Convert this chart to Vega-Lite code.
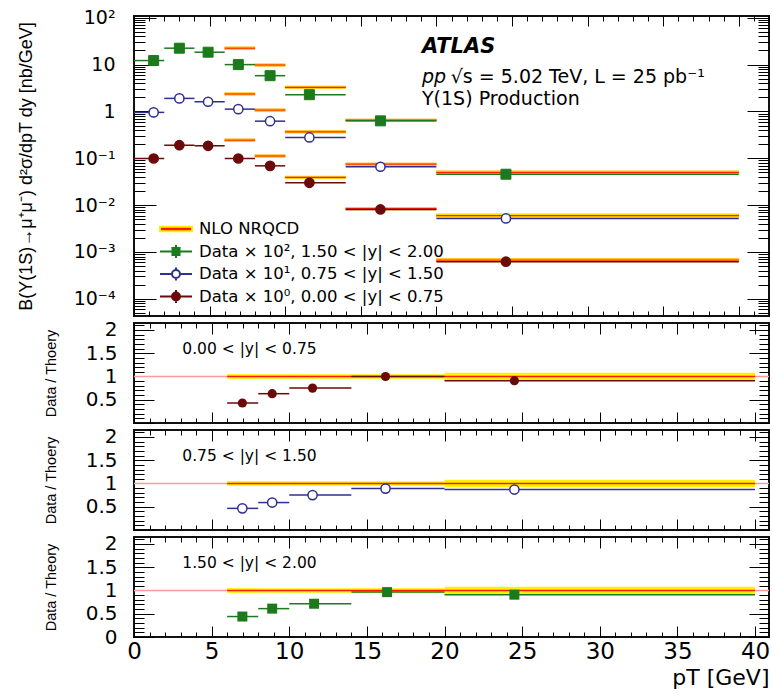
{
  "$schema": "https://vega.github.io/schema/vega-lite/v6.json",
  "padding": {"left": 16, "top": 7, "right": 3, "bottom": 5},
  "spacing": 0,
  "background": "white",
  "datasets": {
    "main": [
      {"s": "g", "label": "Data × 10², 1.50 < |y| < 2.00", "lo": 0, "hi": 2, "pt": 1.3, "v": 12.2, "vlo": 11.6, "vhi": 12.8},
      {"s": "g", "label": "Data × 10², 1.50 < |y| < 2.00", "lo": 2, "hi": 4, "pt": 3.0, "v": 22.4, "vlo": 21.3, "vhi": 23.5},
      {"s": "g", "label": "Data × 10², 1.50 < |y| < 2.00", "lo": 4, "hi": 6, "pt": 4.9, "v": 18.4, "vlo": 17.3, "vhi": 19.5},
      {"s": "g", "label": "Data × 10², 1.50 < |y| < 2.00", "lo": 6, "hi": 8, "pt": 6.9, "v": 10.0, "vlo": 7.8, "vhi": 12.6},
      {"s": "g", "label": "Data × 10², 1.50 < |y| < 2.00", "lo": 8, "hi": 10, "pt": 9.0, "v": 5.8, "vlo": 5.4, "vhi": 6.2},
      {"s": "g", "label": "Data × 10², 1.50 < |y| < 2.00", "lo": 10, "hi": 14, "pt": 11.6, "v": 2.28, "vlo": 2.15, "vhi": 2.41},
      {"s": "g", "label": "Data × 10², 1.50 < |y| < 2.00", "lo": 14, "hi": 20, "pt": 16.3, "v": 0.63, "vlo": 0.59, "vhi": 0.67},
      {"s": "g", "label": "Data × 10², 1.50 < |y| < 2.00", "lo": 20, "hi": 40, "pt": 24.6, "v": 0.0457, "vlo": 0.042, "vhi": 0.0495},
      {"s": "b", "label": "Data × 10¹, 0.75 < |y| < 1.50", "lo": 0, "hi": 2, "pt": 1.3, "v": 0.955, "vlo": 0.92, "vhi": 0.99},
      {"s": "b", "label": "Data × 10¹, 0.75 < |y| < 1.50", "lo": 2, "hi": 4, "pt": 3.0, "v": 1.9, "vlo": 1.83, "vhi": 1.97},
      {"s": "b", "label": "Data × 10¹, 0.75 < |y| < 1.50", "lo": 4, "hi": 6, "pt": 4.9, "v": 1.61, "vlo": 1.55, "vhi": 1.67},
      {"s": "b", "label": "Data × 10¹, 0.75 < |y| < 1.50", "lo": 6, "hi": 8, "pt": 6.9, "v": 1.12, "vlo": 1.07, "vhi": 1.17},
      {"s": "b", "label": "Data × 10¹, 0.75 < |y| < 1.50", "lo": 8, "hi": 10, "pt": 9.0, "v": 0.62, "vlo": 0.595, "vhi": 0.645},
      {"s": "b", "label": "Data × 10¹, 0.75 < |y| < 1.50", "lo": 10, "hi": 14, "pt": 11.6, "v": 0.279, "vlo": 0.268, "vhi": 0.29},
      {"s": "b", "label": "Data × 10¹, 0.75 < |y| < 1.50", "lo": 14, "hi": 20, "pt": 16.3, "v": 0.066, "vlo": 0.063, "vhi": 0.069},
      {"s": "b", "label": "Data × 10¹, 0.75 < |y| < 1.50", "lo": 20, "hi": 40, "pt": 24.6, "v": 0.0052, "vlo": 0.0049, "vhi": 0.0055},
      {"s": "m", "label": "Data × 10⁰, 0.00 < |y| < 0.75", "lo": 0, "hi": 2, "pt": 1.3, "v": 0.099, "vlo": 0.095, "vhi": 0.103},
      {"s": "m", "label": "Data × 10⁰, 0.00 < |y| < 0.75", "lo": 2, "hi": 4, "pt": 3.0, "v": 0.19, "vlo": 0.182, "vhi": 0.198},
      {"s": "m", "label": "Data × 10⁰, 0.00 < |y| < 0.75", "lo": 4, "hi": 6, "pt": 4.9, "v": 0.185, "vlo": 0.177, "vhi": 0.193},
      {"s": "m", "label": "Data × 10⁰, 0.00 < |y| < 0.75", "lo": 6, "hi": 8, "pt": 6.9, "v": 0.099, "vlo": 0.095, "vhi": 0.103},
      {"s": "m", "label": "Data × 10⁰, 0.00 < |y| < 0.75", "lo": 8, "hi": 10, "pt": 9.0, "v": 0.069, "vlo": 0.066, "vhi": 0.072},
      {"s": "m", "label": "Data × 10⁰, 0.00 < |y| < 0.75", "lo": 10, "hi": 14, "pt": 11.6, "v": 0.030, "vlo": 0.0288, "vhi": 0.0312},
      {"s": "m", "label": "Data × 10⁰, 0.00 < |y| < 0.75", "lo": 14, "hi": 20, "pt": 16.3, "v": 0.0081, "vlo": 0.0077, "vhi": 0.0085},
      {"s": "m", "label": "Data × 10⁰, 0.00 < |y| < 0.75", "lo": 20, "hi": 40, "pt": 24.6, "v": 0.00062, "vlo": 0.00058, "vhi": 0.00066}
    ],
    "theory": [
      {"s": "g", "lo": 6, "hi": 8, "t": 22.4, "tlo": 21.0, "thi": 23.9},
      {"s": "g", "lo": 8, "hi": 10, "t": 9.8, "tlo": 9.2, "thi": 10.4},
      {"s": "g", "lo": 10, "hi": 14, "t": 3.28, "tlo": 3.08, "thi": 3.49},
      {"s": "g", "lo": 14, "hi": 20, "t": 0.65, "tlo": 0.61, "thi": 0.69},
      {"s": "g", "lo": 20, "hi": 40, "t": 0.050, "tlo": 0.0462, "thi": 0.0541},
      {"s": "b", "lo": 6, "hi": 8, "t": 2.36, "tlo": 2.22, "thi": 2.51},
      {"s": "b", "lo": 8, "hi": 10, "t": 1.07, "tlo": 1.0, "thi": 1.14},
      {"s": "b", "lo": 10, "hi": 14, "t": 0.367, "tlo": 0.345, "thi": 0.39},
      {"s": "b", "lo": 14, "hi": 20, "t": 0.0748, "tlo": 0.0703, "thi": 0.0795},
      {"s": "b", "lo": 20, "hi": 40, "t": 0.0060, "tlo": 0.00555, "thi": 0.0065},
      {"s": "m", "lo": 6, "hi": 8, "t": 0.244, "tlo": 0.229, "thi": 0.26},
      {"s": "m", "lo": 8, "hi": 10, "t": 0.112, "tlo": 0.105, "thi": 0.119},
      {"s": "m", "lo": 10, "hi": 14, "t": 0.039, "tlo": 0.0367, "thi": 0.0415},
      {"s": "m", "lo": 14, "hi": 20, "t": 0.0084, "tlo": 0.0079, "thi": 0.0089},
      {"s": "m", "lo": 20, "hi": 40, "t": 0.00067, "tlo": 0.00062, "thi": 0.000725}
    ],
    "ratio": [
      {"p": 1, "lo": 6, "hi": 8, "pt": 6.98, "r": 0.43, "rlo": 0.40, "rhi": 0.46},
      {"p": 1, "lo": 8, "hi": 10, "pt": 8.9, "r": 0.63, "rlo": 0.60, "rhi": 0.66},
      {"p": 1, "lo": 10, "hi": 14, "pt": 11.5, "r": 0.75, "rlo": 0.72, "rhi": 0.78},
      {"p": 1, "lo": 14, "hi": 20, "pt": 16.2, "r": 1.0, "rlo": 0.95, "rhi": 1.05},
      {"p": 1, "lo": 20, "hi": 40, "pt": 24.5, "r": 0.91, "rlo": 0.84, "rhi": 0.98},
      {"p": 2, "lo": 6, "hi": 8, "pt": 6.98, "r": 0.465, "rlo": 0.44, "rhi": 0.49},
      {"p": 2, "lo": 8, "hi": 10, "pt": 8.9, "r": 0.59, "rlo": 0.565, "rhi": 0.615},
      {"p": 2, "lo": 10, "hi": 14, "pt": 11.5, "r": 0.75, "rlo": 0.72, "rhi": 0.78},
      {"p": 2, "lo": 14, "hi": 20, "pt": 16.2, "r": 0.89, "rlo": 0.85, "rhi": 0.93},
      {"p": 2, "lo": 20, "hi": 40, "pt": 24.5, "r": 0.87, "rlo": 0.81, "rhi": 0.93},
      {"p": 3, "lo": 6, "hi": 8, "pt": 6.98, "r": 0.44, "rlo": 0.37, "rhi": 0.51},
      {"p": 3, "lo": 8, "hi": 10, "pt": 8.9, "r": 0.61, "rlo": 0.56, "rhi": 0.66},
      {"p": 3, "lo": 10, "hi": 14, "pt": 11.6, "r": 0.715, "rlo": 0.665, "rhi": 0.765},
      {"p": 3, "lo": 14, "hi": 20, "pt": 16.3, "r": 0.965, "rlo": 0.895, "rhi": 1.035},
      {"p": 3, "lo": 20, "hi": 40, "pt": 24.5, "r": 0.91, "rlo": 0.83, "rhi": 0.99}
    ],
    "band": [
      {"lo": 6, "hi": 8, "blo": 0.95, "bhi": 1.05},
      {"lo": 8, "hi": 10, "blo": 0.95, "bhi": 1.05},
      {"lo": 10, "hi": 14, "blo": 0.95, "bhi": 1.05},
      {"lo": 14, "hi": 20, "blo": 0.95, "bhi": 1.05},
      {"lo": 20, "hi": 40, "blo": 0.92, "bhi": 1.08}
    ]
  },
  "resolve": {"scale": {"fill": "independent", "stroke": "independent", "shape": "independent"}},
  "vconcat": [
    {
      "width": 635,
      "height": 300,
      "resolve": {"axis": {"x": "independent", "y": "independent"}},
      "layer": [
        {
          "data": {"name": "theory"},
          "mark": {"type": "rect", "fill": "#fff200", "stroke": "#ffa000", "strokeWidth": 0.6},
          "encoding": {
            "x": {"field": "lo", "type": "quantitative", "scale": {"domain": [0, 42], "nice": false, "zero": false},
              "axis": {"orient": "bottom", "title": null, "labels": false, "minExtent": 0, "maxExtent": 0, "values": [0,1,2,3,4,5,6,7,8,9,10,11,12,13,14,15,16,17,18,19,20,21,22,23,24,25,26,27,28,29,30,31,32,33,34,35,36,37,38,39,40,41,42],
                "tickSize": {"condition": {"test": "datum.value % 5 === 0", "value": -10}, "value": -5}}},
            "x2": {"field": "hi"},
            "y": {"field": "tlo", "type": "quantitative", "scale": {"type": "log", "domain": [0.000043, 109], "nice": false},
              "axis": {"orient": "left", "title": "B(Υ(1S)→μ⁺μ⁻)  d²σ/dpT dy  [nb/GeV]", "titleFontSize": 18, "titlePadding": 38,
                "labelPadding": 41, "labelOverlap": false, "labelBound": false, "labelFlush": false,
                "labelFontSize": {"condition": {"test": "abs(log(datum.value)/LN10 - round(log(datum.value)/LN10)) < 0.001", "value": 19}, "value": 0},
                "values": [0.00005,0.00006,0.00007,0.00008,0.00009,0.0001,0.0002,0.0003,0.0004,0.0005,0.0006,0.0007,0.0008,0.0009,0.001,0.002,0.003,0.004,0.005,0.006,0.007,0.008,0.009,0.01,0.02,0.03,0.04,0.05,0.06,0.07,0.08,0.09,0.1,0.2,0.3,0.4,0.5,0.6,0.7,0.8,0.9,1,2,3,4,5,6,7,8,9,10,20,30,40,50,60,70,80,90,100],
                "labelExpr": "datum.value == 100 ? '10²' : datum.value == 10 ? '10' : datum.value == 1 ? '1' : datum.value == 0.1 ? '10⁻¹' : datum.value == 0.01 ? '10⁻²' : datum.value == 0.001 ? '10⁻³' : datum.value == 0.0001 ? '10⁻⁴' : ''",
                "tickSize": {"condition": {"test": "abs(log(datum.value)/LN10 - round(log(datum.value)/LN10)) < 0.001", "value": -22}, "value": -11}}},
            "y2": {"field": "thi"}
          }
        },
        {
          "data": {"name": "theory"},
          "mark": {"type": "rule", "stroke": "#ff2000", "strokeWidth": 1.2},
          "encoding": {
            "x": {"field": "lo", "type": "quantitative", "scale": {"domain": [0, 42], "nice": false, "zero": false}, "axis": null},
            "x2": {"field": "hi"},
            "y": {"field": "t", "type": "quantitative", "scale": {"type": "log", "domain": [0.000043, 109], "nice": false}, "axis": null}
          }
        },
        {
          "data": {"name": "main"},
          "mark": {"type": "rule", "strokeWidth": 1.5},
          "encoding": {
            "x": {"field": "lo", "type": "quantitative", "scale": {"domain": [0, 42], "nice": false, "zero": false},
              "axis": {"orient": "top", "title": null, "labels": false, "minExtent": 0, "maxExtent": 0, "values": [0,1,2,3,4,5,6,7,8,9,10,11,12,13,14,15,16,17,18,19,20,21,22,23,24,25,26,27,28,29,30,31,32,33,34,35,36,37,38,39,40,41,42],
                "tickSize": {"condition": {"test": "datum.value % 5 === 0", "value": -10}, "value": -5}}},
            "x2": {"field": "hi"},
            "y": {"field": "v", "type": "quantitative", "scale": {"type": "log", "domain": [0.000043, 109], "nice": false},
              "axis": {"orient": "right", "title": null, "labels": false, "minExtent": 0, "maxExtent": 0,
                "values": [0.00005,0.00006,0.00007,0.00008,0.00009,0.0001,0.0002,0.0003,0.0004,0.0005,0.0006,0.0007,0.0008,0.0009,0.001,0.002,0.003,0.004,0.005,0.006,0.007,0.008,0.009,0.01,0.02,0.03,0.04,0.05,0.06,0.07,0.08,0.09,0.1,0.2,0.3,0.4,0.5,0.6,0.7,0.8,0.9,1,2,3,4,5,6,7,8,9,10,20,30,40,50,60,70,80,90,100],
                "tickSize": {"condition": {"test": "abs(log(datum.value)/LN10 - round(log(datum.value)/LN10)) < 0.001", "value": -22}, "value": -11}}},
            "stroke": {"field": "label", "type": "nominal", "legend": {"title": null},
              "scale": {"domain": ["NLO NRQCD", "Data × 10², 1.50 < |y| < 2.00", "Data × 10¹, 0.75 < |y| < 1.50", "Data × 10⁰, 0.00 < |y| < 0.75"], "range": ["#ffee00", "#1c7a1c", "#30308f", "#6b0a0a"]}}
          }
        },
        {
          "data": {"name": "main"},
          "mark": {"type": "rule", "strokeWidth": 1.5},
          "encoding": {
            "x": {"field": "pt", "type": "quantitative", "scale": {"domain": [0, 42], "nice": false, "zero": false}, "axis": null},
            "y": {"field": "vlo", "type": "quantitative", "scale": {"type": "log", "domain": [0.000043, 109], "nice": false}, "axis": null},
            "y2": {"field": "vhi"},
            "stroke": {"field": "label", "type": "nominal", "legend": {"title": null},
              "scale": {"domain": ["NLO NRQCD", "Data × 10², 1.50 < |y| < 2.00", "Data × 10¹, 0.75 < |y| < 1.50", "Data × 10⁰, 0.00 < |y| < 0.75"], "range": ["#ffee00", "#1c7a1c", "#30308f", "#6b0a0a"]}}
          }
        },
        {
          "data": {"name": "main"},
          "transform": [{"filter": "datum.s === 'g'"}],
          "mark": {"type": "point", "shape": "square", "size": 100, "strokeWidth": 1, "opacity": 1},
          "encoding": {
            "x": {"field": "pt", "type": "quantitative", "scale": {"domain": [0, 42], "nice": false, "zero": false}, "axis": null},
            "y": {"field": "v", "type": "quantitative", "scale": {"type": "log", "domain": [0.000043, 109], "nice": false}, "axis": null},
            "fill": {"field": "label", "type": "nominal", "legend": {"title": null},
              "scale": {"domain": ["NLO NRQCD", "Data × 10², 1.50 < |y| < 2.00", "Data × 10¹, 0.75 < |y| < 1.50", "Data × 10⁰, 0.00 < |y| < 0.75"], "range": ["#ff1a00", "#1c7a1c", "#ffffff", "#6b0a0a"]}},
            "stroke": {"field": "label", "type": "nominal", "legend": {"title": null},
              "scale": {"domain": ["NLO NRQCD", "Data × 10², 1.50 < |y| < 2.00", "Data × 10¹, 0.75 < |y| < 1.50", "Data × 10⁰, 0.00 < |y| < 0.75"], "range": ["#ffee00", "#1c7a1c", "#30308f", "#6b0a0a"]}}
          }
        },
        {
          "data": {"name": "main"},
          "transform": [{"filter": "datum.s !== 'g'"}],
          "mark": {"type": "point", "shape": "circle", "size": 85, "strokeWidth": 1.5, "opacity": 1},
          "encoding": {
            "x": {"field": "pt", "type": "quantitative", "scale": {"domain": [0, 42], "nice": false, "zero": false}, "axis": null},
            "y": {"field": "v", "type": "quantitative", "scale": {"type": "log", "domain": [0.000043, 109], "nice": false}, "axis": null},
            "fill": {"field": "label", "type": "nominal", "legend": {"title": null},
              "scale": {"domain": ["NLO NRQCD", "Data × 10², 1.50 < |y| < 2.00", "Data × 10¹, 0.75 < |y| < 1.50", "Data × 10⁰, 0.00 < |y| < 0.75"], "range": ["#ff1a00", "#1c7a1c", "#ffffff", "#6b0a0a"]}},
            "stroke": {"field": "label", "type": "nominal", "legend": {"title": null},
              "scale": {"domain": ["NLO NRQCD", "Data × 10², 1.50 < |y| < 2.00", "Data × 10¹, 0.75 < |y| < 1.50", "Data × 10⁰, 0.00 < |y| < 0.75"], "range": ["#ffee00", "#1c7a1c", "#30308f", "#6b0a0a"]}}
          }
        },
        {
          "data": {"name": "main"},
          "mark": {"type": "point", "size": 1024, "strokeWidth": 2, "opacity": 1, "clip": true},
          "encoding": {
            "x": {"datum": -10, "type": "quantitative", "scale": {"domain": [0, 42], "nice": false, "zero": false}, "axis": null},
            "y": {"field": "v", "type": "quantitative", "scale": {"type": "log", "domain": [0.000043, 109], "nice": false}, "axis": null},
            "fill": {"field": "label", "type": "nominal", "legend": {"title": null},
              "scale": {"domain": ["NLO NRQCD", "Data × 10², 1.50 < |y| < 2.00", "Data × 10¹, 0.75 < |y| < 1.50", "Data × 10⁰, 0.00 < |y| < 0.75"], "range": ["#ff1a00", "#1c7a1c", "#ffffff", "#6b0a0a"]}},
            "stroke": {"field": "label", "type": "nominal", "legend": {"title": null},
              "scale": {"domain": ["NLO NRQCD", "Data × 10², 1.50 < |y| < 2.00", "Data × 10¹, 0.75 < |y| < 1.50", "Data × 10⁰, 0.00 < |y| < 0.75"], "range": ["#ffee00", "#1c7a1c", "#30308f", "#6b0a0a"]}},
            "shape": {"field": "label", "type": "nominal", "legend": {"title": null},
              "scale": {"domain": ["NLO NRQCD", "Data × 10², 1.50 < |y| < 2.00", "Data × 10¹, 0.75 < |y| < 1.50", "Data × 10⁰, 0.00 < |y| < 0.75"],
                "range": ["M-1,-0.14H1V0.14H-1Z", "M-1,0H1M0,-0.4V0.4M-0.22,-0.22H0.22V0.22H-0.22Z", "M-1,0H-0.25M0.25,0H1M0,-0.4V-0.25M0,0.25V0.4M0.25,0A0.25,0.25,0,1,1,-0.25,0A0.25,0.25,0,1,1,0.25,0Z", "M-1,0H1M0,-0.4V0.4M0.25,0A0.25,0.25,0,1,1,-0.25,0A0.25,0.25,0,1,1,0.25,0Z"]}}
          }
        },
        {
          "data": {"values": [{}]},
          "mark": {"type": "text", "text": "ATLAS", "font": "DejaVu Sans", "fontSize": 21, "fontWeight": "bold", "fontStyle": "italic", "align": "left", "baseline": "middle", "color": "black"},
          "encoding": {
            "x": {"datum": 19.05, "type": "quantitative", "scale": {"domain": [0, 42], "nice": false, "zero": false}, "axis": null},
            "y": {"datum": 23.6, "type": "quantitative", "scale": {"type": "log", "domain": [0.000043, 109], "nice": false}, "axis": null}
          }
        },
        {
          "data": {"values": [{}]},
          "mark": {"type": "text", "text": "pp", "font": "DejaVu Sans", "fontSize": 19, "fontStyle": "italic", "align": "left", "baseline": "middle", "color": "black"},
          "encoding": {
            "x": {"datum": 19.05, "type": "quantitative", "scale": {"domain": [0, 42], "nice": false, "zero": false}, "axis": null},
            "y": {"datum": 5.4, "type": "quantitative", "scale": {"type": "log", "domain": [0.000043, 109], "nice": false}, "axis": null}
          }
        },
        {
          "data": {"values": [{}]},
          "mark": {"type": "text", "text": "√s = 5.02 TeV, L = 25 pb⁻¹", "font": "DejaVu Sans", "fontSize": 19, "align": "left", "baseline": "middle", "color": "black"},
          "encoding": {
            "x": {"datum": 20.95, "type": "quantitative", "scale": {"domain": [0, 42], "nice": false, "zero": false}, "axis": null},
            "y": {"datum": 5.4, "type": "quantitative", "scale": {"type": "log", "domain": [0.000043, 109], "nice": false}, "axis": null}
          }
        },
        {
          "data": {"values": [{}]},
          "mark": {"type": "text", "text": "Υ(1S) Production", "font": "DejaVu Sans", "fontSize": 19, "align": "left", "baseline": "middle", "color": "black"},
          "encoding": {
            "x": {"datum": 19.05, "type": "quantitative", "scale": {"domain": [0, 42], "nice": false, "zero": false}, "axis": null},
            "y": {"datum": 1.84, "type": "quantitative", "scale": {"type": "log", "domain": [0.000043, 109], "nice": false}, "axis": null}
          }
        }
      ]
    },
    {
      "width": 635,
      "height": 100,
      "resolve": {"axis": {"x": "independent", "y": "independent"}},
      "layer": [
        {
          "data": {"values": [{}]},
          "mark": {"type": "rule", "stroke": "#ff9a9a", "strokeWidth": 1.5},
          "encoding": {"y": {"datum": 1, "type": "quantitative", "scale": {"domain": [0, 2.15], "nice": false, "zero": false}, "axis": null}}
        },
        {
          "data": {"name": "band"},
          "mark": {"type": "rect", "fill": "#fff200"},
          "encoding": {
            "x": {"field": "lo", "type": "quantitative", "scale": {"domain": [0, 40.9], "nice": false, "zero": false}, "axis": null},
            "x2": {"field": "hi"},
            "y": {"field": "blo", "type": "quantitative", "scale": {"domain": [0, 2.15], "nice": false, "zero": false}, "axis": null},
            "y2": {"field": "bhi"}
          }
        },
        {
          "data": {"values": [{}]},
          "mark": {"type": "rule", "stroke": "#ff1a00", "strokeWidth": 1.5},
          "encoding": {
            "x": {"datum": 6, "type": "quantitative", "scale": {"domain": [0, 40.9], "nice": false, "zero": false}, "axis": null},
            "x2": {"datum": 40},
            "y": {"datum": 1, "type": "quantitative", "scale": {"domain": [0, 2.15], "nice": false, "zero": false}, "axis": null}
          }
        },
        {
          "data": {"name": "ratio"},
          "transform": [{"filter": "datum.p === 1"}],
          "mark": {"type": "rule", "stroke": "#6b0a0a", "strokeWidth": 1.5},
          "encoding": {
            "x": {"field": "lo", "type": "quantitative", "scale": {"domain": [0, 40.9], "nice": false, "zero": false},
              "axis": {"orient": "bottom", "title": null, "labels": false, "minExtent": 0, "maxExtent": 0, "values": [0,1,2,3,4,5,6,7,8,9,10,11,12,13,14,15,16,17,18,19,20,21,22,23,24,25,26,27,28,29,30,31,32,33,34,35,36,37,38,39,40],
                "tickSize": {"condition": {"test": "datum.value % 5 === 0", "value": -11}, "value": -5}}},
            "x2": {"field": "hi"},
            "y": {"field": "r", "type": "quantitative", "scale": {"domain": [0, 2.15], "nice": false, "zero": false},
              "axis": {"orient": "left", "title": "Data / Thoery", "titleFontSize": 14.5, "titlePadding": 27,
                "labelPadding": 37, "labelOverlap": false, "labelBound": false, "labelFlush": false,
                "labelFontSize": {"condition": {"test": "abs(datum.value*2 - round(datum.value*2)) < 0.001 && datum.value > 0.1", "value": 20}, "value": 0},
                "values": [0,0.1,0.2,0.3,0.4,0.5,0.6,0.7,0.8,0.9,1,1.1,1.2,1.3,1.4,1.5,1.6,1.7,1.8,1.9,2,2.1],
                "labelExpr": "datum.value == 0.5 ? '0.5' : datum.value == 1 ? '1' : datum.value == 1.5 ? '1.5' : datum.value == 2 ? '2' : ''",
                "tickSize": {"condition": {"test": "abs(datum.value*2 - round(datum.value*2)) < 0.001", "value": -20}, "value": -10}}}
          }
        },
        {
          "data": {"name": "ratio"},
          "transform": [{"filter": "datum.p === 1"}],
          "mark": {"type": "rule", "stroke": "#6b0a0a", "strokeWidth": 1.5},
          "encoding": {
            "x": {"field": "pt", "type": "quantitative", "scale": {"domain": [0, 40.9], "nice": false, "zero": false},
              "axis": {"orient": "top", "title": null, "labels": false, "minExtent": 0, "maxExtent": 0, "values": [0,1,2,3,4,5,6,7,8,9,10,11,12,13,14,15,16,17,18,19,20,21,22,23,24,25,26,27,28,29,30,31,32,33,34,35,36,37,38,39,40],
                "tickSize": {"condition": {"test": "datum.value % 5 === 0", "value": -11}, "value": -5}}},
            "y": {"field": "rlo", "type": "quantitative", "scale": {"domain": [0, 2.15], "nice": false, "zero": false},
              "axis": {"orient": "right", "title": null, "labels": false, "minExtent": 0, "maxExtent": 0,
                "values": [0,0.1,0.2,0.3,0.4,0.5,0.6,0.7,0.8,0.9,1,1.1,1.2,1.3,1.4,1.5,1.6,1.7,1.8,1.9,2,2.1],
                "tickSize": {"condition": {"test": "abs(datum.value*2 - round(datum.value*2)) < 0.001", "value": -20}, "value": -10}}},
            "y2": {"field": "rhi"}
          }
        },
        {
          "data": {"name": "ratio"},
          "transform": [{"filter": "datum.p === 1"}],
          "mark": {"type": "point", "shape": "circle", "size": 85, "filled": true, "color": "#6b0a0a", "opacity": 1},
          "encoding": {
            "x": {"field": "pt", "type": "quantitative", "scale": {"domain": [0, 40.9], "nice": false, "zero": false}, "axis": null},
            "y": {"field": "r", "type": "quantitative", "scale": {"domain": [0, 2.15], "nice": false, "zero": false}, "axis": null}
          }
        },
        {
          "data": {"values": [{}]},
          "mark": {"type": "text", "text": "0.00 < |y| < 0.75", "font": "DejaVu Sans", "fontSize": 15.5, "align": "left", "baseline": "middle", "color": "black"},
          "encoding": {
            "x": {"datum": 3.11, "type": "quantitative", "scale": {"domain": [0, 40.9], "nice": false, "zero": false}, "axis": null},
            "y": {"datum": 1.59, "type": "quantitative", "scale": {"domain": [0, 2.15], "nice": false, "zero": false}, "axis": null}
          }
        }
      ]
    },
    {
      "width": 635,
      "height": 100,
      "resolve": {"axis": {"x": "independent", "y": "independent"}},
      "layer": [
        {
          "data": {"values": [{}]},
          "mark": {"type": "rule", "stroke": "#ff9a9a", "strokeWidth": 1.5},
          "encoding": {"y": {"datum": 1, "type": "quantitative", "scale": {"domain": [0, 2.15], "nice": false, "zero": false}, "axis": null}}
        },
        {
          "data": {"name": "band"},
          "mark": {"type": "rect", "fill": "#fff200"},
          "encoding": {
            "x": {"field": "lo", "type": "quantitative", "scale": {"domain": [0, 40.9], "nice": false, "zero": false}, "axis": null},
            "x2": {"field": "hi"},
            "y": {"field": "blo", "type": "quantitative", "scale": {"domain": [0, 2.15], "nice": false, "zero": false}, "axis": null},
            "y2": {"field": "bhi"}
          }
        },
        {
          "data": {"values": [{}]},
          "mark": {"type": "rule", "stroke": "#ff1a00", "strokeWidth": 1.5},
          "encoding": {
            "x": {"datum": 6, "type": "quantitative", "scale": {"domain": [0, 40.9], "nice": false, "zero": false}, "axis": null},
            "x2": {"datum": 40},
            "y": {"datum": 1, "type": "quantitative", "scale": {"domain": [0, 2.15], "nice": false, "zero": false}, "axis": null}
          }
        },
        {
          "data": {"name": "ratio"},
          "transform": [{"filter": "datum.p === 2"}],
          "mark": {"type": "rule", "stroke": "#30308f", "strokeWidth": 1.5},
          "encoding": {
            "x": {"field": "lo", "type": "quantitative", "scale": {"domain": [0, 40.9], "nice": false, "zero": false},
              "axis": {"orient": "bottom", "title": null, "labels": false, "minExtent": 0, "maxExtent": 0, "values": [0,1,2,3,4,5,6,7,8,9,10,11,12,13,14,15,16,17,18,19,20,21,22,23,24,25,26,27,28,29,30,31,32,33,34,35,36,37,38,39,40],
                "tickSize": {"condition": {"test": "datum.value % 5 === 0", "value": -11}, "value": -5}}},
            "x2": {"field": "hi"},
            "y": {"field": "r", "type": "quantitative", "scale": {"domain": [0, 2.15], "nice": false, "zero": false},
              "axis": {"orient": "left", "title": "Data / Thoery", "titleFontSize": 14.5, "titlePadding": 27,
                "labelPadding": 37, "labelOverlap": false, "labelBound": false, "labelFlush": false,
                "labelFontSize": {"condition": {"test": "abs(datum.value*2 - round(datum.value*2)) < 0.001 && datum.value > 0.1", "value": 20}, "value": 0},
                "values": [0,0.1,0.2,0.3,0.4,0.5,0.6,0.7,0.8,0.9,1,1.1,1.2,1.3,1.4,1.5,1.6,1.7,1.8,1.9,2,2.1],
                "labelExpr": "datum.value == 0.5 ? '0.5' : datum.value == 1 ? '1' : datum.value == 1.5 ? '1.5' : datum.value == 2 ? '2' : ''",
                "tickSize": {"condition": {"test": "abs(datum.value*2 - round(datum.value*2)) < 0.001", "value": -20}, "value": -10}}}
          }
        },
        {
          "data": {"name": "ratio"},
          "transform": [{"filter": "datum.p === 2"}],
          "mark": {"type": "rule", "stroke": "#30308f", "strokeWidth": 1.5},
          "encoding": {
            "x": {"field": "pt", "type": "quantitative", "scale": {"domain": [0, 40.9], "nice": false, "zero": false},
              "axis": {"orient": "top", "title": null, "labels": false, "minExtent": 0, "maxExtent": 0, "values": [0,1,2,3,4,5,6,7,8,9,10,11,12,13,14,15,16,17,18,19,20,21,22,23,24,25,26,27,28,29,30,31,32,33,34,35,36,37,38,39,40],
                "tickSize": {"condition": {"test": "datum.value % 5 === 0", "value": -11}, "value": -5}}},
            "y": {"field": "rlo", "type": "quantitative", "scale": {"domain": [0, 2.15], "nice": false, "zero": false},
              "axis": {"orient": "right", "title": null, "labels": false, "minExtent": 0, "maxExtent": 0,
                "values": [0,0.1,0.2,0.3,0.4,0.5,0.6,0.7,0.8,0.9,1,1.1,1.2,1.3,1.4,1.5,1.6,1.7,1.8,1.9,2,2.1],
                "tickSize": {"condition": {"test": "abs(datum.value*2 - round(datum.value*2)) < 0.001", "value": -20}, "value": -10}}},
            "y2": {"field": "rhi"}
          }
        },
        {
          "data": {"name": "ratio"},
          "transform": [{"filter": "datum.p === 2"}],
          "mark": {"type": "point", "shape": "circle", "size": 85, "fill": "#ffffff", "stroke": "#30308f", "strokeWidth": 1.5, "opacity": 1},
          "encoding": {
            "x": {"field": "pt", "type": "quantitative", "scale": {"domain": [0, 40.9], "nice": false, "zero": false}, "axis": null},
            "y": {"field": "r", "type": "quantitative", "scale": {"domain": [0, 2.15], "nice": false, "zero": false}, "axis": null}
          }
        },
        {
          "data": {"values": [{}]},
          "mark": {"type": "text", "text": "0.75 < |y| < 1.50", "font": "DejaVu Sans", "fontSize": 15.5, "align": "left", "baseline": "middle", "color": "black"},
          "encoding": {
            "x": {"datum": 3.11, "type": "quantitative", "scale": {"domain": [0, 40.9], "nice": false, "zero": false}, "axis": null},
            "y": {"datum": 1.59, "type": "quantitative", "scale": {"domain": [0, 2.15], "nice": false, "zero": false}, "axis": null}
          }
        }
      ]
    },
    {
      "width": 635,
      "height": 100,
      "resolve": {"axis": {"x": "independent", "y": "independent"}},
      "layer": [
        {
          "data": {"values": [{}]},
          "mark": {"type": "rule", "stroke": "#ff9a9a", "strokeWidth": 1.5},
          "encoding": {"y": {"datum": 1, "type": "quantitative", "scale": {"domain": [0, 2.15], "nice": false, "zero": false}, "axis": null}}
        },
        {
          "data": {"name": "band"},
          "mark": {"type": "rect", "fill": "#fff200"},
          "encoding": {
            "x": {"field": "lo", "type": "quantitative", "scale": {"domain": [0, 40.9], "nice": false, "zero": false}, "axis": null},
            "x2": {"field": "hi"},
            "y": {"field": "blo", "type": "quantitative", "scale": {"domain": [0, 2.15], "nice": false, "zero": false}, "axis": null},
            "y2": {"field": "bhi"}
          }
        },
        {
          "data": {"values": [{}]},
          "mark": {"type": "rule", "stroke": "#ff1a00", "strokeWidth": 1.5},
          "encoding": {
            "x": {"datum": 6, "type": "quantitative", "scale": {"domain": [0, 40.9], "nice": false, "zero": false}, "axis": null},
            "x2": {"datum": 40},
            "y": {"datum": 1, "type": "quantitative", "scale": {"domain": [0, 2.15], "nice": false, "zero": false}, "axis": null}
          }
        },
        {
          "data": {"name": "ratio"},
          "transform": [{"filter": "datum.p === 3"}],
          "mark": {"type": "rule", "stroke": "#1c7a1c", "strokeWidth": 1.5},
          "encoding": {
            "x": {"field": "lo", "type": "quantitative", "scale": {"domain": [0, 40.9], "nice": false, "zero": false},
              "axis": {"orient": "bottom", "title": "pT [GeV]", "titleFont": "DejaVu Sans", "titleFontSize": 22, "titleAnchor": "end", "titlePadding": 4,
                "labels": true, "labelPadding": 14, "labelFlush": false, "labelOverlap": false, "labelBound": false,
                "labelFontSize": {"condition": {"test": "datum.value % 5 === 0", "value": 23}, "value": 0},
                "labelExpr": "datum.value % 5 === 0 ? datum.label : ''",
                "values": [0,1,2,3,4,5,6,7,8,9,10,11,12,13,14,15,16,17,18,19,20,21,22,23,24,25,26,27,28,29,30,31,32,33,34,35,36,37,38,39,40],
                "tickSize": {"condition": {"test": "datum.value % 5 === 0", "value": -11}, "value": -5}}},
            "x2": {"field": "hi"},
            "y": {"field": "r", "type": "quantitative", "scale": {"domain": [0, 2.15], "nice": false, "zero": false},
              "axis": {"orient": "left", "title": "Data / Theory", "titleFontSize": 14.5, "titlePadding": 27,
                "labelPadding": 37, "labelOverlap": false, "labelBound": false, "labelFlush": false,
                "labelFontSize": {"condition": {"test": "abs(datum.value*2 - round(datum.value*2)) < 0.001", "value": 20}, "value": 0},
                "values": [0,0.1,0.2,0.3,0.4,0.5,0.6,0.7,0.8,0.9,1,1.1,1.2,1.3,1.4,1.5,1.6,1.7,1.8,1.9,2,2.1],
                "labelExpr": "datum.value == 0 ? '0' : datum.value == 0.5 ? '0.5' : datum.value == 1 ? '1' : datum.value == 1.5 ? '1.5' : datum.value == 2 ? '2' : ''",
                "tickSize": {"condition": {"test": "abs(datum.value*2 - round(datum.value*2)) < 0.001", "value": -20}, "value": -10}}}
          }
        },
        {
          "data": {"name": "ratio"},
          "transform": [{"filter": "datum.p === 3"}],
          "mark": {"type": "rule", "stroke": "#1c7a1c", "strokeWidth": 1.5},
          "encoding": {
            "x": {"field": "pt", "type": "quantitative", "scale": {"domain": [0, 40.9], "nice": false, "zero": false},
              "axis": {"orient": "top", "title": null, "labels": false, "minExtent": 0, "maxExtent": 0, "values": [0,1,2,3,4,5,6,7,8,9,10,11,12,13,14,15,16,17,18,19,20,21,22,23,24,25,26,27,28,29,30,31,32,33,34,35,36,37,38,39,40],
                "tickSize": {"condition": {"test": "datum.value % 5 === 0", "value": -11}, "value": -5}}},
            "y": {"field": "rlo", "type": "quantitative", "scale": {"domain": [0, 2.15], "nice": false, "zero": false},
              "axis": {"orient": "right", "title": null, "labels": false, "minExtent": 0, "maxExtent": 0,
                "values": [0,0.1,0.2,0.3,0.4,0.5,0.6,0.7,0.8,0.9,1,1.1,1.2,1.3,1.4,1.5,1.6,1.7,1.8,1.9,2,2.1],
                "tickSize": {"condition": {"test": "abs(datum.value*2 - round(datum.value*2)) < 0.001", "value": -20}, "value": -10}}},
            "y2": {"field": "rhi"}
          }
        },
        {
          "data": {"name": "ratio"},
          "transform": [{"filter": "datum.p === 3"}],
          "mark": {"type": "point", "shape": "square", "size": 100, "filled": true, "color": "#1c7a1c", "opacity": 1},
          "encoding": {
            "x": {"field": "pt", "type": "quantitative", "scale": {"domain": [0, 40.9], "nice": false, "zero": false}, "axis": null},
            "y": {"field": "r", "type": "quantitative", "scale": {"domain": [0, 2.15], "nice": false, "zero": false}, "axis": null}
          }
        },
        {
          "data": {"values": [{}]},
          "mark": {"type": "text", "text": "1.50 < |y| < 2.00", "font": "DejaVu Sans", "fontSize": 15.5, "align": "left", "baseline": "middle", "color": "black"},
          "encoding": {
            "x": {"datum": 3.11, "type": "quantitative", "scale": {"domain": [0, 40.9], "nice": false, "zero": false}, "axis": null},
            "y": {"datum": 1.59, "type": "quantitative", "scale": {"domain": [0, 2.15], "nice": false, "zero": false}, "axis": null}
          }
        }
      ]
    }
  ],
  "config": {
    "concat": {"spacing": 0},
    "view": {"stroke": "#111111", "strokeWidth": 2},
    "axis": {"domain": false, "grid": false, "labelFont": "DejaVu Sans", "labelColor": "black", "tickColor": "black", "tickWidth": 1, "titleFont": "Liberation Sans", "titleFontWeight": "normal", "titleColor": "black"},
    "legend": {"orient": "none", "legendX": 25, "legendY": 203, "labelFont": "DejaVu Sans", "labelFontSize": 16.5, "labelColor": "black", "labelLimit": 0, "clipHeight": 20, "rowPadding": 2.5, "labelOffset": 6, "padding": 0, "symbolSize": 1024, "symbolStrokeWidth": 2}
  }
}
